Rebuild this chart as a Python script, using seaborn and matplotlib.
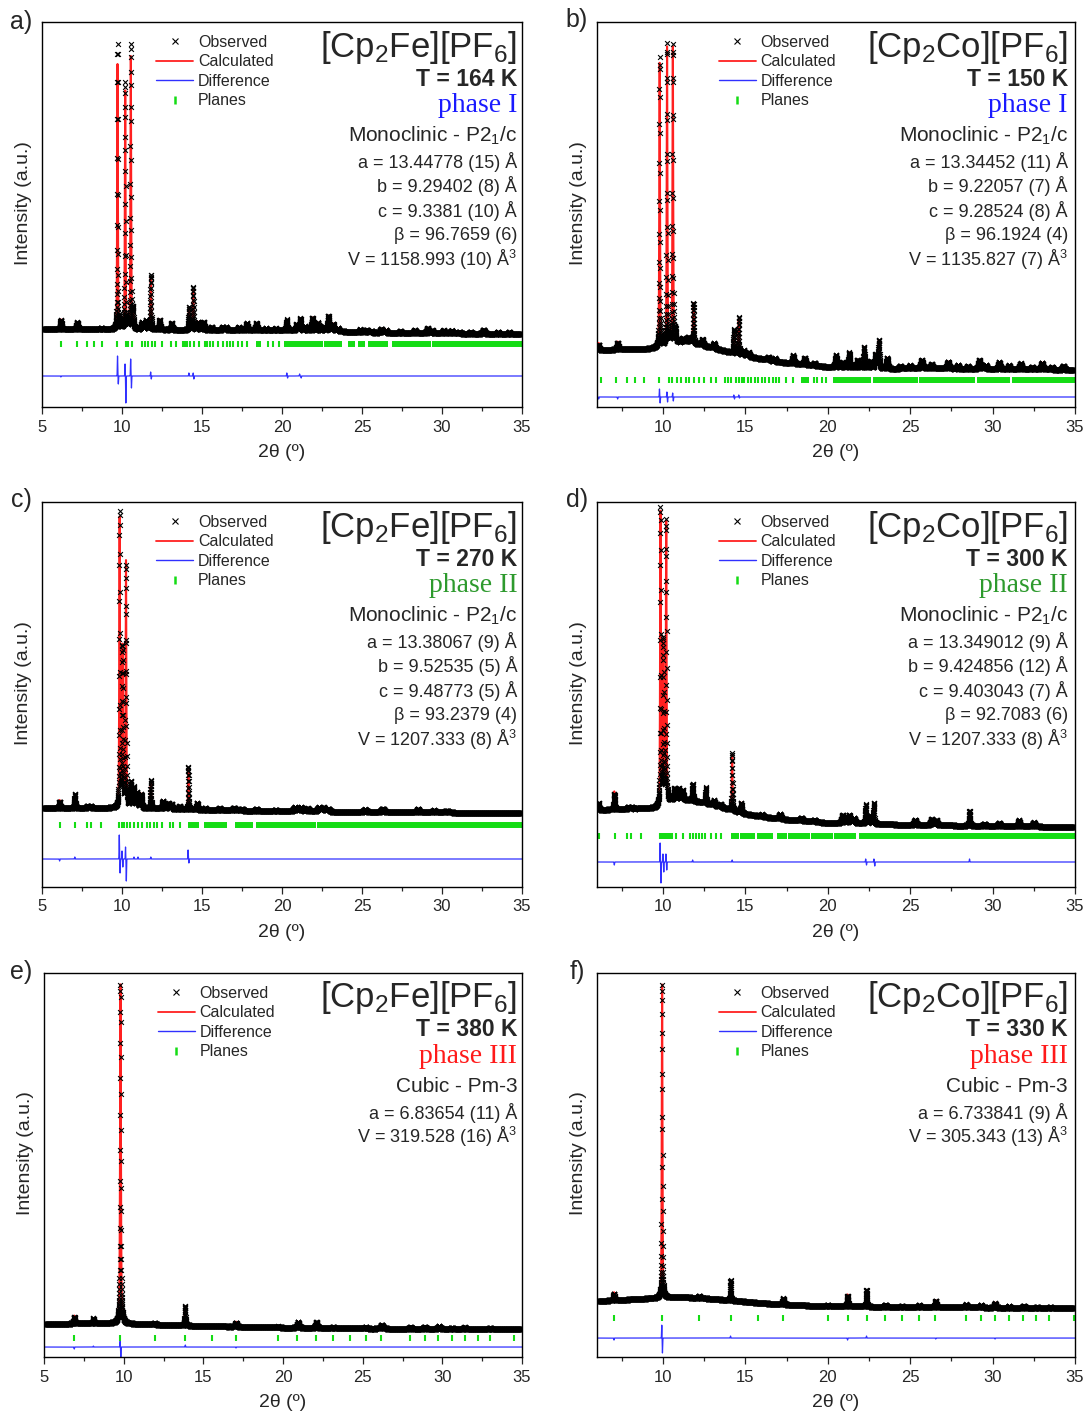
import numpy as np
import matplotlib
matplotlib.use("Agg")
import matplotlib.pyplot as plt
from matplotlib.lines import Line2D
from matplotlib.ticker import MultipleLocator
import seaborn as sns

# ---------------------------------------------------------------- data ----
# intensities in arbitrary units (0 = bottom of each panel, 385 = top)

# (a) [Cp2Fe][PF6] 164 K
a_bg_x = [5, 10, 15, 20, 23.5, 24.5, 30, 35]
a_bg_y = [77.5, 77.5, 77, 76.5, 76, 74.5, 73.5, 73]
a_pk_pos = [6.18, 7.20, 8.70, 9.72, 10.20, 10.55, 10.68, 11.25, 11.50, 11.80, 12.35, 13.10,
            14.18, 14.45, 14.75, 15.10, 15.60, 16.30, 16.50, 17.30, 17.80, 18.40, 19.00, 19.60,
            20.30, 20.90, 21.15, 21.45, 21.90, 22.25, 22.60, 22.90, 23.20, 23.50, 24.90, 25.30,
            25.60, 26.20, 26.50, 27.40, 28.30, 29.10, 29.40, 30.10, 30.60, 31.10, 31.80, 32.60,
            33.50, 34.20]
a_pk_amp = [10, 7, 1.5, 265, 238, 272, 18, 7, 9, 52, 10, 7,
            20, 40, 8, 8, 3, 3, 3, 3, 7, 7, 2, 2,
            8, 6, 12, 4, 13, 8, 4, 15, 7, 3, 3, 3,
            2, 4, 3, 2, 3, 5, 3, 3, 3, 2, 2, 4,
            2, 2]
a_pk_fwhm = [0.10, 0.12, 0.10, 0.05, 0.05, 0.05, 0.08, 0.12, 0.10, 0.06, 0.10, 0.10,
             0.06, 0.06, 0.10, 0.12, 0.10, 0.12, 0.12, 0.12, 0.12, 0.12, 0.10, 0.10,
             0.12, 0.10, 0.10, 0.10, 0.12, 0.10, 0.10, 0.12, 0.10, 0.10, 0.15, 0.15,
             0.10, 0.15, 0.10, 0.10, 0.15, 0.15, 0.10, 0.15, 0.15, 0.10, 0.10, 0.15,
             0.10, 0.10]
a_df_pos = [6.18, 9.72, 9.77, 10.19, 10.24, 10.54, 10.59, 11.79, 11.83, 14.18, 14.45, 14.49,
            20.30, 20.35, 21.10, 21.20]
a_df_amp = [-1, 20, -8, 12, -27, 17, -12, 4, -3, 3, 3, -3, 3, -2, 2, -2]
a_diff_base = 31
a_plane_y = 63
a_planes = [6.20, 7.17, 7.79, 8.27, 8.77, 9.71, 10.25, 10.40, 10.60, 11.23, 11.45, 11.65,
            11.85, 12.06, 12.48, 13.06, 13.35, 13.80, 13.95, 14.05, 14.25, 14.50, 14.79, 15.17,
            15.30, 15.50, 15.67, 16.02, 16.29, 16.54, 16.75, 16.96, 17.23, 17.48, 17.79,
            19.10, 19.45, 19.80]
a_bands = [(18.35, 18.70), (20.15, 22.55), (22.65, 23.75), (24.15, 24.55), (24.75, 25.20),
           (25.40, 26.65), (26.90, 29.30), (29.40, 35.0)]

# (b) [Cp2Co][PF6] 150 K
b_bg_x = [6, 9, 10, 10.7, 11.5, 12.5, 14, 15, 17, 20, 22, 24, 26, 28, 35]
b_bg_y = [57, 58, 60, 64, 65, 61, 55, 51, 45, 40, 39, 38, 39, 38, 37]
b_pk_pos = [6.10, 7.25, 9.80, 10.25, 10.60, 10.75, 11.20, 11.55, 11.85, 12.40, 13.10, 14.30,
            14.60, 14.90, 15.20, 16.40, 16.80, 17.90, 18.60, 19.20, 20.50, 20.90, 21.30, 21.80,
            22.20, 22.60, 22.90, 23.10, 23.60, 24.40, 25.00, 25.70, 26.30, 27.30, 27.90, 28.50,
            29.20, 29.60, 30.40, 31.00, 31.70, 32.40, 33.00, 33.60, 34.30]
b_pk_amp = [7, 8, 284, 298, 296, 12, 4, 5, 40, 6, 5, 22,
            35, 5, 4, 3, 3, 8, 7, 3, 12, 5, 15, 8,
            21, 7, 14, 28, 11, 3, 3, 8, 4, 7, 4, 3,
            9, 4, 7, 4, 6, 3, 7, 3, 4]
b_pk_fwhm = [0.08, 0.10, 0.05, 0.05, 0.05, 0.08, 0.10, 0.12, 0.06, 0.12, 0.12, 0.06,
             0.06, 0.10, 0.12, 0.15, 0.10, 0.12, 0.12, 0.10, 0.12, 0.10, 0.10, 0.12,
             0.08, 0.10, 0.10, 0.08, 0.12, 0.12, 0.12, 0.15, 0.12, 0.15, 0.12, 0.12,
             0.15, 0.12, 0.15, 0.12, 0.15, 0.12, 0.15, 0.12, 0.15]
b_df_pos = [6.10, 7.25, 9.79, 9.83, 10.24, 10.28, 10.59, 10.63, 14.30, 14.34, 14.60, 14.64]
b_df_amp = [-2, -2, 8, -6, 5, -5, 4, -4, 2, -2, 2, -1]
b_diff_base = 10
b_plane_y = 27
b_planes = [6.26, 7.16, 7.79, 8.32, 8.84, 9.79, 10.36, 10.57, 10.84, 11.11, 11.41, 11.60,
            11.89, 12.20, 12.48, 12.94, 13.19, 13.78, 13.95, 14.10, 14.41, 14.60, 14.80, 14.94,
            15.15, 15.35, 15.57, 15.78, 16.00, 16.20, 16.45, 16.65, 16.85, 17.04, 17.46, 17.88,
            19.14, 19.35, 19.66, 19.87]
b_bands = [(18.40, 18.85), (20.30, 22.65), (22.75, 25.45), (25.55, 28.95), (29.05, 31.05),
           (31.15, 35.0)]

# (c) [Cp2Fe][PF6] 270 K
c_bg_x = [5, 9.5, 10.5, 15, 20, 25, 30, 35]
c_bg_y = [79, 79, 79, 77, 75.5, 75, 74.5, 74]
c_pk_pos = [6.10, 7.05, 7.85, 8.05, 9.85, 10.03, 10.25, 10.55, 10.75, 10.95, 11.20, 11.80,
            12.55, 12.90, 13.10, 13.60, 14.15, 14.70, 15.20, 16.10, 17.00, 17.50, 18.40, 19.60,
            20.80, 21.20, 21.60, 22.30, 22.60, 22.90, 25.20, 26.30, 28.50, 29.50, 30.30]
c_pk_amp = [8, 12, 2, 2, 288, 160, 245, 25, 18, 15, 14, 26,
            8, 6, 5, 3, 40, 7, 2, 2, 3, 2, 2, 1.5,
            4, 4, 3, 4, 4, 3, 2.5, 3.5, 3.5, 2, 2]
c_pk_fwhm = [0.08, 0.08, 0.10, 0.10, 0.05, 0.07, 0.05, 0.08, 0.10, 0.10, 0.10, 0.06,
             0.10, 0.12, 0.10, 0.12, 0.05, 0.10, 0.10, 0.15, 0.15, 0.15, 0.15, 0.15,
             0.20, 0.20, 0.20, 0.20, 0.20, 0.15, 0.20, 0.20, 0.15, 0.20, 0.20]
c_df_pos = [6.10, 7.05, 9.83, 9.88, 10.00, 10.05, 10.22, 10.27, 10.75, 11.00, 11.80, 14.13, 14.18]
c_df_amp = [-2, 2, 24, -14, 8, -8, 12, -22, 2, 2, 2, 9, -4]
c_diff_base = 28
c_plane_y = 62
c_planes = [6.13, 7.06, 7.80, 8.04, 8.69, 9.82, 9.97, 10.14, 10.32, 10.53, 10.75, 10.97,
            11.23, 11.55, 11.77, 11.99, 12.20, 12.53, 12.97, 13.18, 13.62]
c_bands = [(14.15, 14.80), (15.10, 16.55), (17.05, 18.20), (18.40, 22.10), (22.20, 35.0)]

# (d) [Cp2Co][PF6] 300 K
d_bg_x = [6, 9.5, 10, 10.5, 11.5, 12.5, 13.5, 15, 17, 20, 22, 25, 30, 35]
d_bg_y = [77, 79, 82, 86, 87, 84, 80, 73, 68, 64, 63.5, 62, 61, 60]
d_pk_pos = [6.10, 7.05, 7.90, 8.10, 9.85, 10.02, 10.20, 10.70, 10.95, 11.20, 11.80, 12.60,
            13.10, 13.50, 14.20, 14.75, 16.00, 17.10, 18.40, 19.20, 20.90, 21.30, 21.60, 22.30,
            22.55, 22.80, 25.30, 26.30, 26.60, 28.60, 29.50, 30.40, 31.60, 32.50]
d_pk_amp = [7, 18, 2, 2, 292, 160, 280, 12, 12, 10, 15, 16,
            5, 3, 55, 10, 2, 5, 3, 2, 8, 8, 5, 16,
            8, 18, 5, 6, 5, 12, 2, 3, 6, 4]
d_pk_fwhm = [0.08, 0.07, 0.10, 0.10, 0.05, 0.06, 0.05, 0.10, 0.10, 0.10, 0.08, 0.06,
             0.10, 0.10, 0.05, 0.08, 0.15, 0.15, 0.15, 0.15, 0.15, 0.15, 0.15, 0.08,
             0.08, 0.08, 0.15, 0.15, 0.12, 0.08, 0.15, 0.15, 0.12, 0.15]
d_df_pos = [7.05, 9.83, 9.88, 10.00, 10.05, 10.18, 10.23, 11.80, 14.20, 22.30, 22.35, 22.80,
            22.85, 28.60]
d_df_amp = [-3, 19, -21, 8, -10, 8, -8, 2, 2, 3, -3, 3, -4, 3]
d_diff_base = 25
d_plane_y = 51
d_planes = [6.14, 7.09, 7.80, 8.04, 8.66, 9.81, 9.93, 10.05, 10.20, 10.32, 10.45, 10.58,
            10.82, 11.22, 11.63, 11.80, 12.00, 12.20, 12.38, 12.54, 12.94, 13.24, 13.55]
d_bands = [(14.15, 14.60), (14.70, 15.60), (15.70, 16.70), (16.95, 17.50), (17.60, 18.90),
           (19.00, 20.30), (20.40, 21.70), (21.90, 35.0)]

# (e) [Cp2Fe][PF6] 380 K
e_bg_x = [5, 9, 12, 15, 20, 25, 35]
e_bg_y = [33, 34, 32.5, 31, 29.5, 28.5, 28]
e_pk_pos = [6.90, 8.10, 9.80, 11.95, 13.85, 17.05, 19.70, 20.95, 22.10, 23.15, 25.20, 26.20,
            28.00, 28.90, 29.80, 30.60, 31.40, 33.00]
e_pk_amp = [8, 4, 340, 1.5, 19, 5, 1, 6, 6, 1.5, 1.5, 4, 1.5, 2, 2.5, 1, 1.5, 1]
e_pk_fwhm = [0.08, 0.08, 0.06, 0.10, 0.06, 0.10, 0.10, 0.12, 0.12, 0.10, 0.12, 0.15,
             0.12, 0.12, 0.15, 0.12, 0.12, 0.12]
e_df_pos = [6.90, 8.10, 9.78, 9.82, 13.87, 17.05]
e_df_amp = [-2, 1, 6, -10, 2, -1]
e_diff_base = 10
e_plane_y = 19.5
e_planes = [6.90, 9.79, 11.99, 13.87, 15.52, 17.03, 19.70, 20.90, 22.05, 23.14, 24.18, 25.20,
            26.15, 28.00, 28.90, 29.75, 30.58, 31.42, 32.22, 32.98, 34.50]
e_bands = []

# (f) [Cp2Co][PF6] 330 K
f_bg_x = [6, 9.5, 10.5, 12, 14, 16, 18, 20, 25, 35]
f_bg_y = [56, 59, 60, 59.5, 57, 54, 52, 51, 50, 49]
f_pk_pos = [7.03, 9.95, 12.20, 14.10, 17.30, 20.00, 21.20, 22.35, 23.50, 24.50, 25.55, 26.55,
            28.40, 29.30, 30.15, 31.00, 31.90, 32.70, 33.50]
f_pk_amp = [8, 314, 2, 18, 6, 1, 12, 15, 2, 1, 2, 7, 3, 2.5, 5, 1.5, 2, 1, 1]
f_pk_fwhm = [0.08, 0.05, 0.10, 0.06, 0.10, 0.10, 0.08, 0.07, 0.12, 0.10, 0.12, 0.10,
             0.12, 0.12, 0.10, 0.10, 0.12, 0.10, 0.10]
f_df_pos = [7.03, 9.93, 9.97, 14.10, 21.20, 22.35, 26.55, 30.15]
f_df_amp = [-2, 13, -15, 2, -2, 2, -1, -1]
f_diff_base = 19
f_plane_y = 39
f_planes = [7.03, 9.94, 12.18, 14.10, 15.75, 17.27, 19.99, 21.20, 22.36, 23.47, 24.53, 25.55,
            26.52, 28.38, 29.27, 30.15, 31.02, 31.85, 32.64, 33.43, 34.95]
f_bands = []

# texts
compounds = [r"[Cp$_{\mathrm{2}}$Fe][PF$_{\mathrm{6}}$]", r"[Cp$_{\mathrm{2}}$Co][PF$_{\mathrm{6}}$]"] * 3
temperatures = ["T = 164 K", "T = 150 K", "T = 270 K", "T = 300 K", "T = 380 K", "T = 330 K"]
phases = ["phase I", "phase I", "phase II", "phase II", "phase III", "phase III"]
phase_colors = ["#1a1aff", "#1a1aff", "#2e9a2e", "#2e9a2e", "#ff1a1a", "#ff1a1a"]
systems = [r"Monoclinic - P2$_{\mathrm{1}}$/c"] * 4 + ["Cubic - Pm-3"] * 2
cell_params = [
    ["a = 13.44778 (15) Å", "b = 9.29402 (8) Å", "c = 9.3381 (10) Å", "β = 96.7659 (6)",
     r"V = 1158.993 (10) Å$^{\mathrm{3}}$"],
    ["a = 13.34452 (11) Å", "b = 9.22057 (7) Å", "c = 9.28524 (8) Å", "β = 96.1924 (4)",
     r"V = 1135.827 (7) Å$^{\mathrm{3}}$"],
    ["a = 13.38067 (9) Å", "b = 9.52535 (5) Å", "c = 9.48773 (5) Å", "β = 93.2379 (4)",
     r"V = 1207.333 (8) Å$^{\mathrm{3}}$"],
    ["a = 13.349012 (9) Å", "b = 9.424856 (12) Å", "c = 9.403043 (7) Å", "β = 92.7083 (6)",
     r"V = 1207.333 (8) Å$^{\mathrm{3}}$"],
    ["a = 6.83654 (11) Å", r"V = 319.528 (16) Å$^{\mathrm{3}}$"],
    ["a = 6.733841 (9) Å", r"V = 305.343 (13) Å$^{\mathrm{3}}$"],
]
panel_letters = ["a)", "b)", "c)", "d)", "e)", "f)"]
x_starts = [5, 6, 5, 6, 5, 6]
lorentz_frac = [0.5, 0.5, 0.5, 0.5, 0.7, 0.5]

# ---------------------------------------------------------------- style ---
sns.set_style("ticks")
plt.rcParams["font.family"] = ["Liberation Sans", "DejaVu Sans"]
plt.rcParams["mathtext.fontset"] = "custom"
plt.rcParams["mathtext.rm"] = "Liberation Sans"
plt.rcParams["mathtext.it"] = "Liberation Sans:italic"
plt.rcParams["mathtext.bf"] = "Liberation Sans:bold"

W, H = 1086, 1416
fig = plt.figure(figsize=(W / 100, H / 100), dpi=100)

# axes rectangles in pixels: left, right, top, bottom
boxes = [(42, 522, 22, 407), (597, 1075, 22, 407),
         (42, 522, 502, 887), (597, 1075, 502, 887),
         (44, 522, 973, 1357), (597, 1075, 973, 1357)]
letter_pos = [(21, 22), (577, 20), (21, 500), (577, 500), (21, 972), (577, 972)]

panels = [
    (a_bg_x, a_bg_y, a_pk_pos, a_pk_amp, a_pk_fwhm, a_df_pos, a_df_amp, a_diff_base, a_plane_y, a_planes, a_bands),
    (b_bg_x, b_bg_y, b_pk_pos, b_pk_amp, b_pk_fwhm, b_df_pos, b_df_amp, b_diff_base, b_plane_y, b_planes, b_bands),
    (c_bg_x, c_bg_y, c_pk_pos, c_pk_amp, c_pk_fwhm, c_df_pos, c_df_amp, c_diff_base, c_plane_y, c_planes, c_bands),
    (d_bg_x, d_bg_y, d_pk_pos, d_pk_amp, d_pk_fwhm, d_df_pos, d_df_amp, d_diff_base, d_plane_y, d_planes, d_bands),
    (e_bg_x, e_bg_y, e_pk_pos, e_pk_amp, e_pk_fwhm, e_df_pos, e_df_amp, e_diff_base, e_plane_y, e_planes, e_bands),
    (f_bg_x, f_bg_y, f_pk_pos, f_pk_amp, f_pk_fwhm, f_df_pos, f_df_amp, f_diff_base, f_plane_y, f_planes, f_bands),
]


def peak_profile(x, pos, amp, fwhm, eta):
    y = np.zeros_like(x)
    for p, a, w in zip(pos, amp, fwhm):
        u = (x - p) / w
        y += a * (eta / (1 + 4 * u ** 2) + (1 - eta) * np.exp(-4 * np.log(2) * u ** 2))
    return y


def diff_profile(x, pos, amp, sig=0.012):
    y = np.zeros_like(x)
    for p, a in zip(pos, amp):
        y += a * np.exp(-0.5 * ((x - p) / sig) ** 2)
    return y


RED = "#ff2020"
BLUE = "#3030ff"
GREEN = "#14dc14"
YTOP = 385.0

for i, (bgx, bgy, ppos, pamp, pfw, dpos, damp, dbase, ply, planes, bands) in enumerate(panels):
    l, r, t, b = boxes[i]
    ax = fig.add_axes([l / W, 1 - b / H, (r - l) / W, (b - t) / H])
    x = np.arange(x_starts[i], 35.0001, 0.005)
    calc = np.interp(x, bgx, bgy) + peak_profile(x, ppos, pamp, pfw, lorentz_frac[i])
    dprof = diff_profile(x, dpos, damp)
    obs = calc + dprof

    # difference
    sns.lineplot(x=x, y=dbase + dprof, ax=ax, color=BLUE, linewidth=0.9,
                 estimator=None, sort=False, legend=False, zorder=2)
    # calculated
    sns.lineplot(x=x, y=calc, ax=ax, color=RED, linewidth=1.5,
                 estimator=None, sort=False, legend=False, zorder=3)
    # observed
    sns.scatterplot(x=x, y=obs, ax=ax, marker="x", color="black", s=12,
                    linewidth=0.8, legend=False, zorder=4)
    # planes
    ax.vlines(planes, ply - 3, ply + 3, color=GREEN, linewidth=1.5, zorder=2)
    if bands:
        ax.hlines([ply] * len(bands), [s for s, e in bands], [e for s, e in bands],
                  color=GREEN, linewidth=4.3, zorder=2)

    ax.set_xlim(x_starts[i], 35)
    ax.set_ylim(0, YTOP)
    ax.set_yticks([])
    ax.xaxis.set_major_locator(MultipleLocator(5))
    ax.xaxis.set_minor_locator(MultipleLocator(2.5))
    ax.tick_params(axis="x", which="major", direction="out", length=5, width=0.9,
                   labelsize=12, pad=4, top=False, bottom=True)
    ax.tick_params(axis="x", which="minor", direction="out", length=3, width=0.9,
                   top=False, bottom=True)
    for sp in ax.spines.values():
        sp.set_visible(True)
        sp.set_linewidth(1.0)
        sp.set_color("black")
    ax.set_xlabel("2θ (º)", fontsize=14)
    ax.set_ylabel("Intensity (a.u.)", fontsize=14)
    ax.xaxis.set_label_coords(0.5, -0.097)
    ax.yaxis.set_label_coords(-0.02, 0.53)

    # legend
    handles = [Line2D([], [], ls="none", marker="x", color="black", markersize=4, markeredgewidth=0.8),
               Line2D([], [], color=RED, linewidth=1.3),
               Line2D([], [], color=BLUE, linewidth=1.0),
               Line2D([], [], ls="none", marker="|", color=GREEN, markersize=6, markeredgewidth=1.8)]
    lx = 0.238 if i % 2 == 0 else 0.255
    ax.legend(handles, ["Observed", "Calculated", "Difference", "Planes"],
              loc="upper left", bbox_to_anchor=(lx, 1 - 13 / YTOP), frameon=False,
              fontsize=11.5, handlelength=2.3, handletextpad=0.3, labelspacing=0.28,
              borderpad=0, borderaxespad=0)

    # annotation block
    xr = 0.99 if i % 2 == 0 else 0.985
    def ty(px):
        return 1 - px / YTOP
    ax.text(xr, ty(25), compounds[i], transform=ax.transAxes, ha="right", va="center",
            fontsize=25)
    ax.text(xr, ty(57), temperatures[i], transform=ax.transAxes, ha="right", va="center",
            fontsize=16.5, fontweight="bold")
    ax.text(xr, ty(84), phases[i], transform=ax.transAxes, ha="right", va="center",
            fontsize=20, color=phase_colors[i], family=["Liberation Serif", "DejaVu Serif"])
    ax.text(xr, ty(114), systems[i], transform=ax.transAxes, ha="right", va="center",
            fontsize=15)
    for k, line in enumerate(cell_params[i]):
        ax.text(xr, ty(140 + 24.5 * k), line, transform=ax.transAxes, ha="right", va="center",
                fontsize=13)

    fx, fy = letter_pos[i]
    fig.text(fx / W, 1 - fy / H, panel_letters[i], ha="center", va="center", fontsize=18)

fig.savefig("out.png", dpi=100)
